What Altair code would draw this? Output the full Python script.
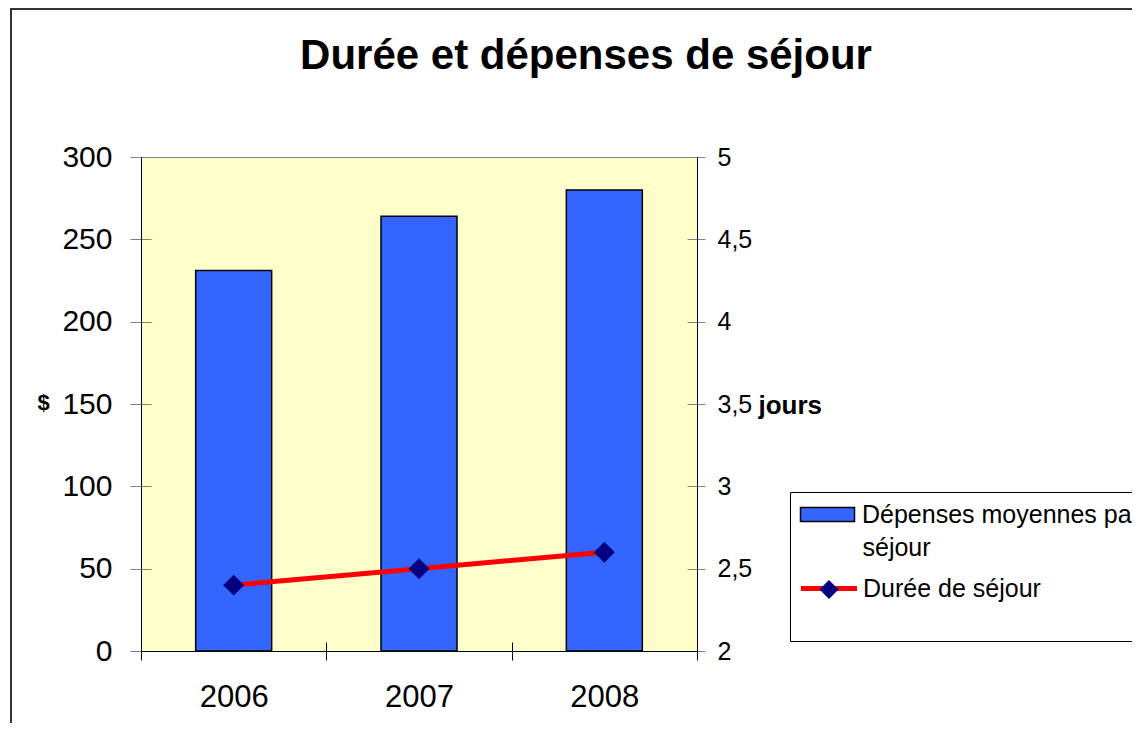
import altair as alt
import pandas as pd

# ---- data ----
years = [2006, 2007, 2008]
depenses = [231, 264, 280]
duree = [2.4, 2.5, 2.6]
serie_bar = "Dépenses moyennes par séjour"
serie_line = "Durée de séjour"
y_left_ticks = [0, 50, 100, 150, 200, 250, 300]
y_right_ticks = [2, 2.5, 3, 3.5, 4, 4.5, 5]
x_bounds = [2005.5, 2006.5, 2007.5, 2008.5]
title_text = "Durée et dépenses de séjour"

df = pd.DataFrame({
    "annee": years,
    "depenses": depenses,
    "duree": duree,
    "serie_bar": [serie_bar] * len(years),
    "serie_line": [serie_line] * len(years),
    "serie_point": [serie_line] * len(years),
})

FONT = "Liberation Sans"
W, H = 556, 494
NBSP = "\u00a0"
ZWSP = "\u200b"

x_enc = alt.X(
    "annee:Q",
    scale=alt.Scale(domain=[2005.5, 2008.5], nice=False, zero=False, padding=0),
    axis=alt.Axis(
        values=x_bounds,
        labelExpr="datum.value < 2008 ? format(datum.value + 0.5, 'd') : ''",
        labelOffset=W / 6,
        labelFontSize=31,
        labelPadding=22,
        labelFlush=False,
        labelOverlap=False,
        labelColor="#000",
        tickSize=9,
        tickColor="#000",
        domainColor="#000",
        grid=True,
        gridDash=[9, 485],
        gridDashOffset=9,
        gridColor="#000",
        title=None,
    ),
)

y_left = alt.Y(
    "depenses:Q",
    scale=alt.Scale(domain=[0, 300], nice=False),
    axis=alt.Axis(
        orient="left",
        values=y_left_ticks,
        labelFontSize=30,
        labelPadding=18,
        labelColor="#000",
        tickSize=11,
        tickColor="#808080",
        domainColor="#000",
        grid=True,
        gridDash=[10, 536],
        gridColor="#808080",
        title="$",
        titleAngle=0,
        titleX=-98,
        titleY=245,
        titleAlign="center",
        titleBaseline="middle",
        titleFontSize=22,
        titleFontWeight="bold",
        titleColor="#000",
    ),
)

y_right = alt.Y(
    "duree:Q",
    scale=alt.Scale(domain=[2, 5], nice=False, zero=False),
    axis=alt.Axis(
        orient="right",
        values=y_right_ticks,
        labelExpr="replace(format(datum.value, '.1~f'), '.', ',')",
        labelFontSize=25,
        labelPadding=12,
        labelColor="#000",
        tickSize=8,
        tickColor="#808080",
        domainColor="#000",
        grid=False,
        title="jours",
        titleAngle=0,
        titleX=61,
        titleY=248,
        titleAlign="left",
        titleBaseline="middle",
        titleFontSize=26,
        titleFontWeight="bold",
        titleColor="#000",
    ),
)

frame = alt.Chart(alt.Data(values=[{}])).mark_rect(
    fill="transparent", stroke="#333333", strokeWidth=2
).encode(
    x=alt.value(-130), y=alt.value(-148), x2=alt.value(1100), y2=alt.value(800)
)

bars = alt.Chart(df).mark_bar(width=76, stroke="#000", strokeWidth=1.5).encode(
    x=x_enc,
    y=y_left,
    fill=alt.Fill(
        "serie_bar:N",
        scale=alt.Scale(domain=[serie_bar], range=["#3366FF"]),
        legend=alt.Legend(
            orient="none",
            legendX=649,
            legendY=335,
            strokeColor="#000",
            padding=10,
            symbolType="M-3.857,-1L3.857,-1L3.857,1L-3.857,1Z",
            symbolSize=196,
            symbolOffset=15,
            symbolStrokeColor="#000",
            symbolStrokeWidth=1.5,
            labelExpr="'Dépenses moyennes par'",
            labelFontSize=25,
            labelOffset=22,
            labelLimit=1000,
            labelColor="#000",
            title=[ZWSP + NBSP * 9 + "séjour", ZWSP + NBSP, ZWSP + NBSP],
            titleOrient="bottom",
            titleAnchor="start",
            titleAlign="left",
            titleFontWeight="normal",
            titleFontSize=25,
            titleLineHeight=35,
            titlePadding=8,
            titleColor="#000",
            zindex=1,
        ),
    ),
)

line = alt.Chart(df).mark_line(strokeWidth=5).encode(
    x=x_enc,
    y=y_right,
    stroke=alt.Stroke(
        "serie_line:N",
        scale=alt.Scale(domain=[serie_line], range=["#FF0000"]),
        legend=alt.Legend(
            orient="none",
            legendX=675.5,
            legendY=419,
            padding=0,
            symbolType="M-8,0L8,0",
            symbolSize=49,
            symbolStrokeWidth=5,
            labelFontSize=25,
            labelOffset=21.5,
            labelLimit=1000,
            labelColor="#000",
            title=None,
            zindex=2,
        ),
    ),
)

points = alt.Chart(df).mark_point(shape="diamond", filled=True, size=440, opacity=1).encode(
    x=x_enc,
    y=y_right,
    color=alt.Color(
        "serie_point:N",
        scale=alt.Scale(range=["#000080"]),
        legend=alt.Legend(
            orient="none",
            legendX=677.5,
            legendY=422,
            padding=0,
            symbolType="diamond",
            symbolSize=361,
            symbolOpacity=1,
            labelExpr="''",
            title=None,
            zindex=3,
        ),
    ),
)

chart = alt.layer(
    frame, bars, alt.layer(line, points)
).resolve_scale(
    y="independent", color="independent", fill="independent", stroke="independent"
).properties(
    width=W,
    height=H,
    padding={"left": 133, "top": 149, "right": 435, "bottom": 72},
    autosize=alt.AutoSizeParams(type="none"),
    background="#FFFFFF",
    title=alt.TitleParams(
        title_text,
        font=FONT,
        fontSize=42,
        fontWeight="bold",
        color="#000",
        anchor="middle",
        dx=167,
        dy=70,
        offset=0,
    ),
).configure(
    font=FONT
).configure_view(
    stroke="#808080", strokeWidth=1, fill="#FFFFCC"
)

chart.save("out.html", embed_options={"renderer": "svg", "actions": False})
